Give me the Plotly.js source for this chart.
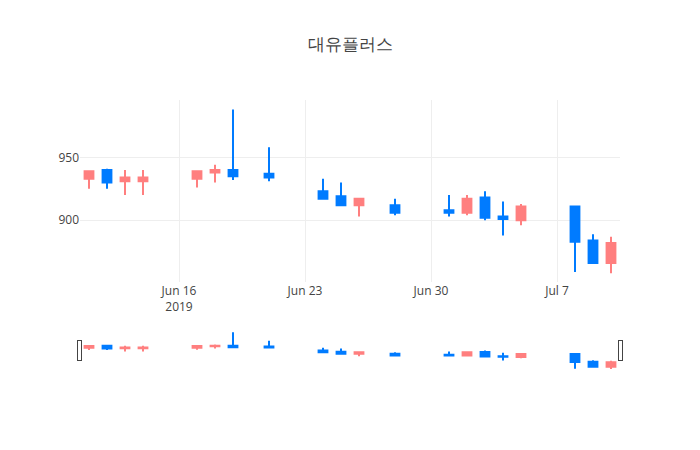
<!DOCTYPE html>
<html>
<head>
<meta charset="utf-8">
<script src="https://cdn.plot.ly/plotly-3.0.1.min.js"></script>
<style>body{margin:0;}</style>
</head>
<body>
<div id="chart" style="width:700px;height:450px;"></div>
<script>
// daily prices
var dates = ['2019-06-11', '2019-06-12', '2019-06-13', '2019-06-14',
             '2019-06-17', '2019-06-18', '2019-06-19', '2019-06-21',
             '2019-06-24', '2019-06-25', '2019-06-26', '2019-06-28',
             '2019-07-01', '2019-07-02', '2019-07-03', '2019-07-04', '2019-07-05',
             '2019-07-08', '2019-07-09', '2019-07-10'];
var open  = [933, 940, 931, 931, 933, 938, 940, 937, 923, 919, 912, 912, 908, 906, 918, 903, 900, 911, 884, 866];
var high  = [939, 941, 940, 940, 939, 944, 988, 958, 933, 930, 917, 917, 920, 920, 923, 915, 913, 911, 889, 887];
var low   = [925, 925, 920, 920, 926, 930, 932, 931, 917, 912, 903, 904, 903, 904, 900, 888, 896, 859, 866, 858];
var close = [939, 930, 934, 934, 939, 940, 935, 934, 917, 912, 917, 906, 906, 917, 902, 901, 911, 883, 866, 882];

var upColor = '#ff7f7f';
var downColor = '#007bff';

var data = [{
  type: 'candlestick',
  x: dates,
  open: open,
  high: high,
  low: low,
  close: close,
  increasing: {line: {color: upColor}, fillcolor: upColor},
  decreasing: {line: {color: downColor}, fillcolor: downColor}
}];

var layout = {
  width: 700,
  height: 450,
  title: {text: '대유플러스'},
  showlegend: false,
  xaxis: {rangeslider: {visible: true}},
  yaxis: {range: [851, 995.5]}
};

Plotly.newPlot('chart', data, layout, {displayModeBar: false});
</script>
</body>
</html>
